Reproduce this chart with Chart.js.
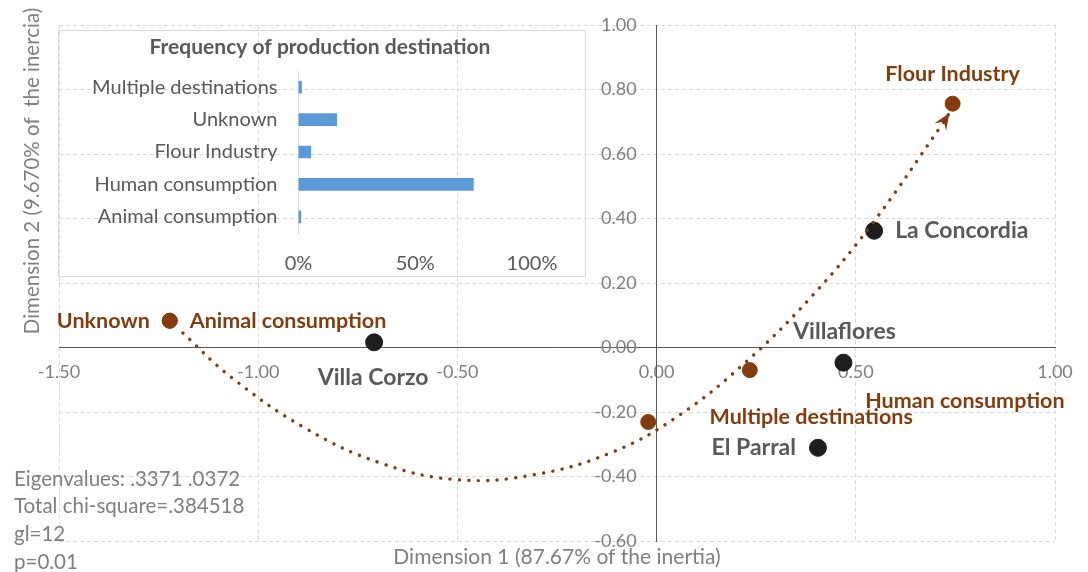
<!DOCTYPE html>
<html>
<head>
<meta charset="utf-8">
<script src="https://cdn.jsdelivr.net/npm/chart.js@4/dist/chart.umd.min.js"></script>
<style>
  html, body { margin: 0; padding: 0; background: #ffffff; }
  #wrap { position: relative; width: 1088px; height: 572px; overflow: hidden; }
  #main { position: absolute; left: 0; top: 0; }
  #insetBox { position: absolute; left: 58px; top: 30px; width: 528px; height: 247px;
              border: 1px solid #d9d9d9; box-sizing: border-box; }
  #inset { position: absolute; left: 58px; top: 30px; }
</style>
</head>
<body>
<div id="wrap">
  <canvas id="main" width="1088" height="572"></canvas>
  <div id="insetBox"></div>
  <canvas id="inset" width="528" height="247"></canvas>
</div>
<script>
// Row points (municipalities): coordinates on dimensions 1 and 2
const municipalities = ['La Concordia', 'Villaflores', 'El Parral', 'Villa Corzo'];
const municipalitiesDim1 = [0.546, 0.469, 0.405, -0.709];
const municipalitiesDim2 = [0.362, -0.047, -0.311, 0.016];

// Column points (production destinations): coordinates on dimensions 1 and 2
const destinations = ['Flour Industry', 'Human consumption', 'Multiple destinations', 'Unknown', 'Animal consumption'];
const destinationsDim1 = [0.743, 0.234, -0.021, -1.222, -1.222];
const destinationsDim2 = [0.756, -0.070, -0.231, 0.083, 0.083];

// Waypoints of the dotted trend arrow
const trendDim1 = [-1.189, -1.069, -0.882, -0.689, -0.498, -0.305, -0.110, 0.057, 0.224, 0.392, 0.542, 0.714, 0.735];
const trendDim2 = [0.045, -0.091, -0.250, -0.360, -0.410, -0.394, -0.324, -0.210, -0.045, 0.162, 0.385, 0.687, 0.727];

// Inset bar chart: share of each production destination
const frequencyCategories = ['Multiple destinations', 'Unknown', 'Flour Industry', 'Human consumption', 'Animal consumption'];
const frequencyShares = [0.013, 0.164, 0.053, 0.749, 0.010];

// Axis ticks
const dim1Ticks = [-1.5, -1.0, -0.5, 0.0, 0.5, 1.0];
const dim2Ticks = [-0.6, -0.4, -0.2, 0.0, 0.2, 0.4, 0.6, 0.8, 1.0];
const shareTicks = [0, 0.5, 1];

// Texts
const dim1Title = 'Dimension 1 (87.67% of the inertia)';
const dim2Title = 'Dimension 2 (9.670% of  the inercia)';
const insetTitle = 'Frequency of production destination';
const statsLines = ['Eigenvalues: .3371 .0372', 'Total chi-square=.384518', 'gl=12', 'p=0.01'];

const FONT = 'Lato, "Open Sans", sans-serif';
const BROWN = '#843c0c';
const DARKGRAY = '#595959';
const TICKGRAY = '#7f7f7f';

// Label placement relative to each point: [dx, dy, align]
const municipalityLabelPlacement = [[21, 0, 'left'], [1, -31, 'center'], [-22, 0, 'right'], [-1, 35, 'center']];
const destinationLabelPlacement = [[0, -30, 'center'], [215, 31, 'center'], [163, -5, 'center'], [-20, 0, 'right'], [20, 0, 'left']];

const toPoints = (xs, ys) => xs.map((x, i) => ({ x: x, y: ys[i] }));

const pointLabels = {
  id: 'pointLabels',
  afterDatasetsDraw(chart) {
    const ctx = chart.ctx;
    chart.data.datasets.forEach((ds, i) => {
      if (!ds.labelText) return;
      const meta = chart.getDatasetMeta(i);
      meta.data.forEach((el, j) => {
        const p = ds.labelPlacement[j];
        ctx.save();
        ctx.font = ds.labelFont;
        ctx.fillStyle = ds.labelColor;
        ctx.textAlign = p[2];
        ctx.textBaseline = 'middle';
        ctx.fillText(ds.labelText[j], el.x + p[0], el.y + p[1]);
        ctx.restore();
      });
    });
  }
};

// Tick labels of the vertical axis, set just left of the axis line at x = 0
const dim2TickLabels = {
  id: 'dim2TickLabels',
  afterDraw(chart) {
    const { x, y } = chart.scales;
    const ctx = chart.ctx;
    const left = x.getPixelForValue(0) - 20;
    ctx.save();
    ctx.fillStyle = TICKGRAY;
    ctx.font = '18px ' + FONT;
    ctx.textAlign = 'right';
    ctx.textBaseline = 'middle';
    y.ticks.forEach(t => ctx.fillText(t.value.toFixed(2), left, y.getPixelForValue(t.value)));
    ctx.restore();
  }
};

const arrowHead = {
  id: 'arrowHead',
  afterDatasetsDraw(chart) {
    const idx = chart.data.datasets.findIndex(d => d.isTrend);
    const pts = chart.getDatasetMeta(idx).data;
    const tip = pts[pts.length - 1], prev = pts[pts.length - 2];
    const dx = tip.x - prev.x, dy = tip.y - prev.y;
    const len = Math.hypot(dx, dy);
    const ux = dx / len, uy = dy / len, nx = -uy, ny = ux;
    const L = 17, W = 7, notch = 10;
    const ctx = chart.ctx;
    ctx.save();
    ctx.fillStyle = BROWN;
    ctx.beginPath();
    ctx.moveTo(tip.x, tip.y);
    ctx.lineTo(tip.x - ux * L + nx * W, tip.y - uy * L + ny * W);
    ctx.lineTo(tip.x - ux * notch, tip.y - uy * notch);
    ctx.lineTo(tip.x - ux * L - nx * W, tip.y - uy * L - ny * W);
    ctx.closePath();
    ctx.fill();
    ctx.restore();
  }
};

const annotations = {
  id: 'annotations',
  afterDraw(chart) {
    const ctx = chart.ctx;
    const area = chart.chartArea;
    ctx.save();
    ctx.fillStyle = TICKGRAY;
    ctx.textAlign = 'center';
    ctx.textBaseline = 'middle';
    ctx.font = '21px ' + FONT;
    ctx.fillText(dim1Title, (area.left + area.right) / 2, 557);
    ctx.save();
    ctx.translate(32, 171);
    ctx.rotate(-Math.PI / 2);
    ctx.font = '20.5px ' + FONT;
    ctx.fillText(dim2Title, 0, 0);
    ctx.restore();
    ctx.textAlign = 'left';
    ctx.font = '20.5px ' + FONT;
    statsLines.forEach((t, i) => ctx.fillText(t, 14, 479 + i * 27.7));
    ctx.restore();
  }
};

// Heading of the inset bar chart
const insetHeading = {
  id: 'insetHeading',
  afterDraw(chart) {
    const ctx = chart.ctx;
    ctx.save();
    ctx.fillStyle = DARKGRAY;
    ctx.font = 'bold 21px ' + FONT;
    ctx.textAlign = 'center';
    ctx.textBaseline = 'middle';
    ctx.fillText(insetTitle, chart.width / 2 - 2, 17);
    ctx.restore();
  }
};

new Chart(document.getElementById('main'), {
  type: 'scatter',
  data: {
    datasets: [
      {
        data: toPoints(destinationsDim1, destinationsDim2),
        backgroundColor: BROWN, borderColor: BROWN,
        pointRadius: 7.5, pointHoverRadius: 7.5,
        labelText: destinations, labelPlacement: destinationLabelPlacement,
        labelFont: 'bold 21.5px ' + FONT, labelColor: BROWN
      },
      {
        isTrend: true,
        data: toPoints(trendDim1, trendDim2),
        showLine: true, pointRadius: 0, pointHoverRadius: 0,
        borderColor: BROWN, borderWidth: 3.4, tension: 0.4,
        borderDash: [0.1, 9.3], borderCapStyle: 'round'
      },
      {
        data: toPoints(municipalitiesDim1, municipalitiesDim2),
        backgroundColor: '#1e1e1e', borderColor: '#1e1e1e',
        pointRadius: 8.5, pointHoverRadius: 8.5,
        labelText: municipalities, labelPlacement: municipalityLabelPlacement,
        labelFont: 'bold 23px ' + FONT, labelColor: DARKGRAY
      }
    ]
  },
  options: {
    responsive: false,
    animation: false,
    events: [],
    layout: { padding: { left: 59, right: 33, top: 25, bottom: 31 } },
    plugins: { legend: { display: false }, tooltip: { enabled: false } },
    scales: {
      x: {
        type: 'linear', position: { y: 0 }, min: -1.5, max: 1.0,
        afterBuildTicks: s => { s.ticks = dim1Ticks.map(v => ({ value: v })); },
        ticks: { color: TICKGRAY, font: { family: FONT, size: 18 }, padding: 14, maxRotation: 0,
                 callback: v => v.toFixed(2) },
        grid: { color: '#d9d9d9', lineWidth: 1, drawTicks: false },
        border: { color: DARKGRAY, width: 1, dash: [4, 3] }
      },
      y: {
        type: 'linear', position: { x: 0 }, min: -0.6, max: 1.0,
        afterBuildTicks: s => { s.ticks = dim2Ticks.map(v => ({ value: v })); },
        ticks: { display: false },
        grid: { color: '#d9d9d9', lineWidth: 1, drawTicks: false },
        border: { color: DARKGRAY, width: 1, dash: [4, 3] }
      }
    }
  },
  plugins: [pointLabels, arrowHead, dim2TickLabels, annotations]
});

new Chart(document.getElementById('inset'), {
  type: 'bar',
  data: {
    labels: frequencyCategories,
    datasets: [{ data: frequencyShares, backgroundColor: '#5b9bd5', barThickness: 12 }]
  },
  options: {
    indexAxis: 'y',
    responsive: false,
    animation: false,
    events: [],
    layout: { padding: { left: 0, right: 54, top: 41, bottom: 0 } },
    plugins: { legend: { display: false }, tooltip: { enabled: false }, title: { display: false } },
    scales: {
      x: {
        min: 0, max: 1,
        afterBuildTicks: s => { s.ticks = shareTicks.map(v => ({ value: v })); },
        ticks: { color: DARKGRAY, font: { family: FONT, size: 20 }, padding: 19, maxRotation: 0,
                 callback: v => Math.round(v * 100) + '%' },
        grid: { display: false, drawTicks: false },
        border: { display: false },
        afterFit: s => { s.height = 44; }
      },
      y: {
        ticks: { color: DARKGRAY, font: { family: FONT, size: 20 }, padding: 21 },
        grid: { display: false, drawTicks: false },
        border: { display: true, color: '#d9d9d9', width: 1 },
        afterFit: s => { s.width = 240.5; }
      }
    }
  },
  plugins: [insetHeading]
});
</script>
</body>
</html>
